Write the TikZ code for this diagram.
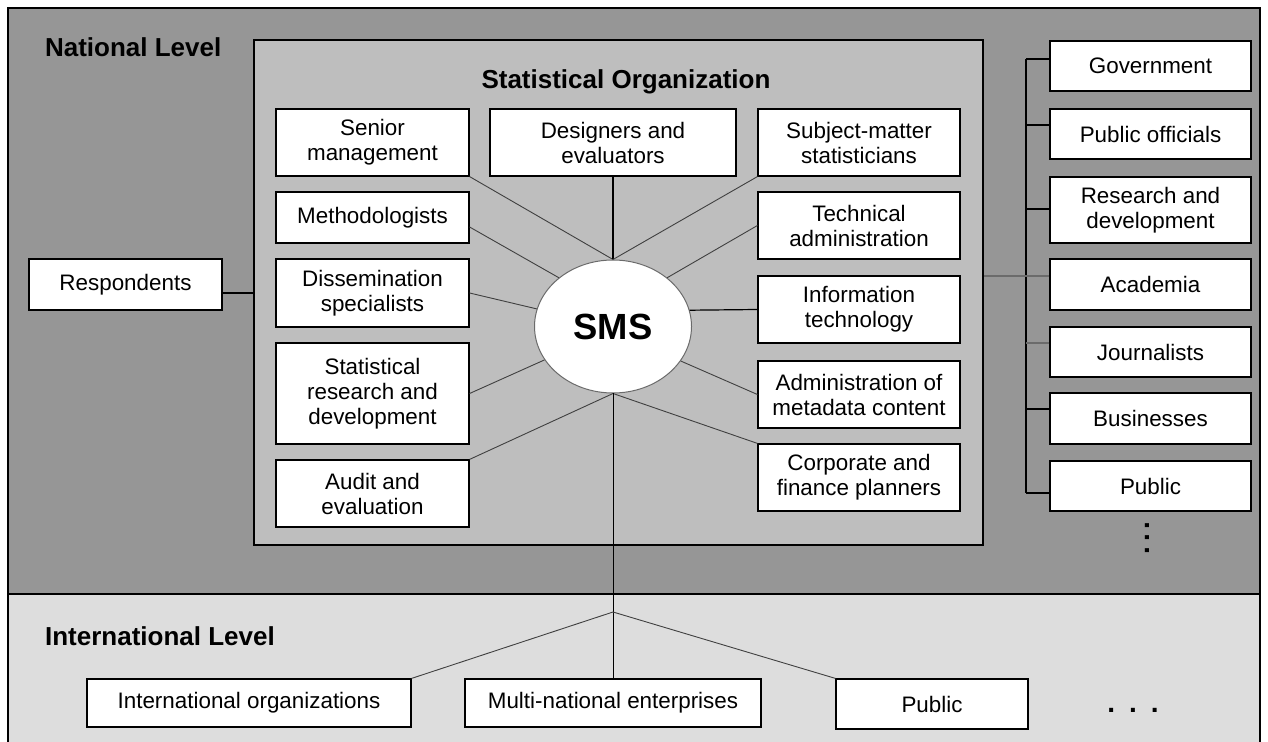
\documentclass[tikz,border=0pt]{standalone}
\usepackage{fontspec}
\setmainfont{Liberation Sans}
\usetikzlibrary{shapes.geometric}
\definecolor{natgray}{gray}{0.59}
\definecolor{orggray}{gray}{0.745}
\definecolor{intgray}{gray}{0.865}
\definecolor{spoke}{gray}{0.25}
\definecolor{faint}{gray}{0.42}
\tikzset{
  role/.style={draw, fill=white, line width=0.6pt, align=center, inner sep=1pt,
    font=\fontsize{11.2}{12.5}\selectfont},
  lvl/.style={anchor=west, font=\bfseries\fontsize{13}{15}\selectfont},
  link/.style={draw=spoke, line width=0.45pt},
}
\begin{document}
\begin{tikzpicture}[x=0.5pt, y=-0.5pt]
\useasboundingbox (0,0) rectangle (1268,742);
% national and international level
\fill[natgray] (8,8) rectangle (1260,594);
\fill[intgray] (8,594) rectangle (1260,742);
\draw[line width=0.7pt] (8,742) -- (8,8) -- (1260,8) -- (1260,742);
\draw[line width=0.7pt] (8,594) -- (1260,594);
\node[lvl] (natl) at (38,47) {National Level};
\node[lvl] (intl) at (38,636) {International Level};

% statistical organization
\node[draw, fill=orggray, line width=0.7pt, inner sep=0,
  minimum width=364.5pt, minimum height=252.5pt] (org) at (618.5,292.5) {};
\node[font=\bfseries\fontsize{13}{15}\selectfont] (orgt) at (626,82) {Statistical Organization};
\node[ellipse, draw=faint, fill=white, line width=0.5pt, inner sep=0,
  minimum width=78.5pt, minimum height=66.5pt,
  font=\bfseries\fontsize{18.2}{20}\selectfont] (sms) at (613,326.5) {SMS};

% left column
\node[role, minimum width=96.5pt, minimum height=33.5pt] (sen) at (372.5,142.5) {Senior\\management};
\node[role, minimum width=96.5pt, minimum height=25.5pt] (met) at (372.5,217.5) {Methodologists};
\node[role, minimum width=96.5pt, minimum height=34pt] (dis) at (372.5,293) {Dissemination\\specialists};
\node[role, minimum width=96.5pt, minimum height=50.5pt] (srd) at (372.5,393.5) {Statistical\\research and\\development};
\node[role, minimum width=96.5pt, minimum height=33.5pt] (aud) at (372.5,493.5) {Audit and\\evaluation};
% middle
\node[role, minimum width=123pt, minimum height=33.5pt] (des) at (613,142.5) {Designers and\\evaluators};
% right column
\node[role, minimum width=101pt, minimum height=33.5pt] (sub) at (859,142.5) {Subject-matter\\statisticians};
\node[role, minimum width=101pt, minimum height=33.5pt] (tec) at (859,225.5) {Technical\\administration};
\node[role, minimum width=101pt, minimum height=33.5pt] (inf) at (859,309.5) {Information\\technology};
\node[role, minimum width=101pt, minimum height=33.5pt] (adm) at (859,394.5) {Administration of\\metadata content};
\node[role, minimum width=101pt, minimum height=33.5pt] (cor) at (859,477.5) {Corporate and\\finance planners};

% spokes
\draw[link] (sen.south east) -- (sms.north);
\draw[line width=0.6pt] (des.south) -- (sms.north);
\draw[link] (sub.south west) -- (sms.north);
\draw[link] ([yshift=-4.75pt]met.east) -- (sms.138);
\draw[link] (dis.east) -- (sms.167);
\draw[link] (srd.east) -- (sms.206);
\draw[link] (aud.north east) -- (sms.south);
\draw[link] (tec.west) -- (sms.42);
\draw[line width=0.6pt] (inf.west) -- (sms.12);
\draw[link] (adm.west) -- (sms.333);
\draw[link] (cor.north west) -- (sms.south);

% respondents
\node[role, minimum width=96.5pt, minimum height=25.5pt] (res) at (125.5,284.5) {Respondents};
\draw[line width=0.6pt] ([yshift=-4.25pt]res.east) -- ([yshift=-4.25pt]res.east -| org.west);

% users at national level
\node[role, minimum width=100.5pt, minimum height=25pt] (gov) at (1150.5,66) {Government};
\node[role, minimum width=100.5pt, minimum height=25pt] (pof) at (1150.5,134) {Public officials};
\node[role, minimum width=100.5pt, minimum height=33pt] (rnd) at (1150.5,210) {Research and\\development};
\node[role, minimum width=100.5pt, minimum height=25.5pt] (aca) at (1150.5,284.5) {Academia};
\node[role, minimum width=100.5pt, minimum height=25pt] (jou) at (1150.5,352) {Journalists};
\node[role, minimum width=100.5pt, minimum height=25.5pt] (bus) at (1150.5,418.5) {Businesses};
\node[role, minimum width=100.5pt, minimum height=25pt] (pub) at (1150.5,486) {Public};
\node[rotate=90, inner sep=0, font=\bfseries\fontsize{14}{16}\selectfont] (vdots) at (1147,538) {.\hspace{2.35pt}.\hspace{2.35pt}.};

\coordinate (spt) at (1026,59);
\coordinate (spb) at (1026,493);
\draw[line width=0.6pt] (spt) -- (spb);
\draw[line width=0.6pt] ([yshift=3.5pt]gov.west) -- ([yshift=3.5pt]gov.west -| spt);
\draw[line width=0.6pt] ([yshift=4.5pt]pof.west) -- ([yshift=4.5pt]pof.west -| spt);
\draw[line width=0.6pt] ([yshift=0.5pt]rnd.west) -- ([yshift=0.5pt]rnd.west -| spt);
\draw[faint, line width=0.7pt] ([yshift=4.25pt]aca.west) -- ([yshift=4.25pt]aca.west -| org.east);
\draw[faint, line width=0.7pt] ([yshift=4.5pt]jou.west) -- ([yshift=4.5pt]jou.west -| spt);
\draw[line width=0.6pt] ([yshift=4.75pt]bus.west) -- ([yshift=4.75pt]bus.west -| spt);
\draw[line width=0.6pt] ([yshift=-3.5pt]pub.west) -- ([yshift=-3.5pt]pub.west -| spt);

% international level
\node[role, minimum width=162pt, minimum height=24pt] (ito) at (249,703) {International organizations};
\node[role, minimum width=148pt, minimum height=24pt] (mne) at (613,703) {Multi-national enterprises};
\node[role, minimum width=96pt, minimum height=25pt] (ipu) at (932,704) {Public};
\node[font=\bfseries\fontsize{14}{16}\selectfont] (hdots) at (1133,710) {.\hspace{7pt}.\hspace{7pt}.};
\coordinate (hub) at (613,612);
\draw[line width=0.5pt] (sms.south) -- (mne.north);
\draw[link] (ito.north east) -- (hub) -- (ipu.north west);
\end{tikzpicture}
\end{document}
